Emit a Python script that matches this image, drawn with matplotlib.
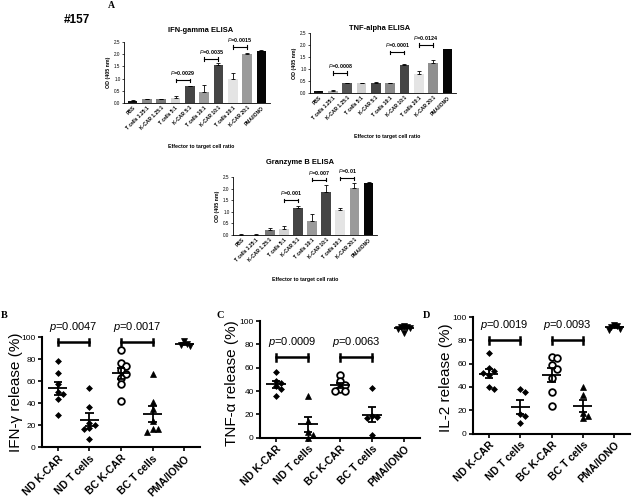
import numpy as np
import matplotlib
matplotlib.use("Agg")
import matplotlib.pyplot as plt

plt.rcParams['font.family'] = ['Liberation Sans', 'DejaVu Sans']
plt.rcParams['mathtext.fontset'] = 'custom'
plt.rcParams['mathtext.rm'] = 'Liberation Sans'
plt.rcParams['mathtext.it'] = 'Liberation Sans:italic'
plt.rcParams['mathtext.bf'] = 'Liberation Sans:bold'

W, H = 633, 499

# ---------------- Panel A data (OD 405 nm) ----------------
elisa_cats = ["PBS", "T cells 1.25:1", "K-CAR 1.25:1", "T cells 5:1", "K-CAR 5:1",
              "T cells 10:1", "K-CAR 10:1", "T cells 20:1", "K-CAR 20:1", "PMA/IONO"]
ifn_od = [0.10, 0.15, 0.16, 0.20, 0.68, 0.45, 1.57, 1.00, 2.00, 2.15]
ifn_err = [0.01, 0.01, 0.02, 0.10, 0.03, 0.30, 0.08, 0.22, 0.05, 0.03]
tnf_od = [0.07, 0.10, 0.42, 0.41, 0.43, 0.42, 1.15, 0.80, 1.25, 1.82]
tnf_err = [0.01, 0.03, 0.01, 0.01, 0.01, 0.01, 0.05, 0.12, 0.12, 0.02]
gzb_od = [0.02, 0.02, 0.20, 0.25, 1.17, 0.62, 1.85, 1.08, 2.02, 2.25]
gzb_err = [0.01, 0.01, 0.10, 0.13, 0.10, 0.30, 0.30, 0.08, 0.20, 0.03]
ifn_pvals = [(3, 4, 0.93, "0.0029"), (5, 6, 1.80, "0.0035"), (7, 8, 2.30, "0.0015")]
tnf_pvals = [(1, 2, 0.83, "0.0008"), (5, 6, 1.70, "0.0001"), (7, 8, 2.00, "0.0124")]
gzb_pvals = [(3, 4, 1.50, "0.001"), (5, 6, 2.38, "0.007"), (7, 8, 2.45, "0.01")]
ifn_colors = ["#111111", "#8a8a8a", "#7a7a7a", "#d4d4d4", "#454545",
              "#9a9a9a", "#454545", "#e4e4e4", "#9a9a9a", "#050505"]
tnf_colors = ["#111111", "#b0b0b0", "#555555", "#cfcfcf", "#454545",
              "#8a8a8a", "#454545", "#e4e4e4", "#8f8f8f", "#050505"]
gzb_colors = ifn_colors

# ---------------- Panels B-D data (% release) ----------------
groups = ["ND K-CAR", "ND T cells", "BC K-CAR", "BC T cells", "PMA/IONO"]
ifn_release = [[78, 67, 57, 50, 48, 44, 29],
               [54, 36, 22, 20, 17, 16, 7],
               [88, 76, 74, 70, 66, 63, 57, 42],
               [66, 41, 35, 24, 16, 14, 16],
               [96, 94, 92, 93]]
tnf_release = [[56, 49, 47, 44, 42, 36],
               [36, 14, 5, 2, 0],
               [54, 49, 45, 42, 40, 40],
               [43, 18, 17, 19, 2],
               [96, 95, 95, 94, 93, 90]]
il2_release = [[69, 56, 54, 52, 50, 40, 38],
               [38, 36, 17, 15, 9],
               [66, 65, 59, 55, 48, 36, 24],
               [40, 33, 18, 15, 13],
               [93, 92, 91, 89, 90]]
ifn_pp = [(0, 1, "0.0047"), (2, 3, "0.0017")]
tnf_pp = [(0, 1, "0.0009"), (2, 3, "0.0063")]
il2_pp = [(0, 1, "0.0019"), (2, 3, "0.0093")]

fig = plt.figure(figsize=(W / 100, H / 100), dpi=100)


def ax_px(l, t, r, b):
    return fig.add_axes([l / W, 1 - b / H, (r - l) / W, (b - t) / H])


def elisa(ax, vals, errs, colors, pvals, title, title_xy, xlabel_xy):
    x = np.arange(len(elisa_cats))
    ax.bar(x, vals, width=0.68, color=colors, edgecolor='none', zorder=2)
    ax.errorbar(x, vals, yerr=[np.zeros(len(vals)), errs], fmt='none',
                ecolor='black', elinewidth=0.6, capsize=1.6, capthick=0.6, zorder=3)
    ax.set_xlim(-0.6, len(elisa_cats) - 0.4)
    ax.set_ylim(0, 2.5)
    ax.set_yticks(np.arange(0, 2.51, 0.5))
    ax.set_yticklabels([f"{v:.1f}" for v in np.arange(0, 2.51, 0.5)], fontsize=3.3)
    ax.set_xticks(x)
    ax.set_xticklabels(elisa_cats, rotation=45, ha='right', rotation_mode='anchor',
                       fontsize=3.5, fontweight='bold')
    ax.tick_params(axis='x', length=0, pad=1.5)
    ax.tick_params(axis='y', length=1.5, width=0.5, pad=1)
    for s in ['top', 'right']:
        ax.spines[s].set_visible(False)
    for s in ['left', 'bottom']:
        ax.spines[s].set_linewidth(0.6)
    ax.set_ylabel("OD (405 nm)", fontsize=3.8, fontweight='bold', labelpad=2)
    for i, j, y, txt in pvals:
        ax.plot([i, j], [y, y], color='black', lw=0.8, clip_on=False, zorder=4)
        for xx in (i, j):
            ax.plot([xx, xx], [y - 0.07, y + 0.07], color='black', lw=0.8, clip_on=False)
        ax.text((i + j) / 2, y + 0.12, r"$\mathbf{\mathit{P}}$=" + txt, ha='center',
                va='bottom', fontsize=3.9, fontweight='bold', clip_on=False)
    fig.text(title_xy[0] / W, 1 - title_xy[1] / H, title, ha='center', va='center',
             fontsize=5.4, fontweight='bold')
    fig.text(xlabel_xy[0] / W, 1 - xlabel_xy[1] / H, "Effector to target cell ratio",
             ha='center', va='center', fontsize=3.8, fontweight='bold')


ax1 = ax_px(124, 42, 270, 103)
elisa(ax1, ifn_od, ifn_err, ifn_colors, ifn_pvals, "IFN-gamma ELISA", (201, 31), (201, 146))
ax2 = ax_px(310, 33, 456, 93)
elisa(ax2, tnf_od, tnf_err, tnf_colors, tnf_pvals, "TNF-alpha ELISA", (380, 29), (387, 137))
ax3 = ax_px(233, 177, 377, 235)
elisa(ax3, gzb_od, gzb_err, gzb_colors, gzb_pvals, "Granzyme B ELISA", (300, 163), (305, 279))

fig.text(111 / W, 1 - 6 / H, "A", fontsize=7, fontweight='bold', family='Liberation Serif',
         ha='center', va='center')
fig.text(77 / W, 1 - 20 / H, "#157", fontsize=8.5, fontweight='bold', ha='center', va='center')


def swarm(vals, ythresh, step):
    vals = np.asarray(vals, dtype=float)
    order = np.argsort(-vals, kind='stable')
    placed = []
    offs = np.zeros(len(vals))
    for i in order:
        v = vals[i]
        cand = 0.0
        for k in range(0, 30):
            cand = 0.0 if k == 0 else ((k + 1) // 2) * step * (1 if k % 2 else -1)
            if all(abs(v - pv) >= ythresh or abs(cand - po) >= step * 0.99 for pv, po in placed):
                break
        offs[i] = cand
        placed.append((v, cand))
    return offs


marker_style = {
    'D': dict(marker='D', ms=3.0, mfc='black', mec='black', mew=0.5),
    '^': dict(marker='^', ms=4.2, mfc='black', mec='black', mew=0.5),
    'v': dict(marker='v', ms=4.2, mfc='black', mec='black', mew=0.5),
    'o': dict(marker='o', ms=4.8, mfc='white', mec='black', mew=1.3),
}


def release(ax, data, markers, pp, ylab, ylab_xy, pbar_y, letter, letter_xy):
    for gi, vals in enumerate(data):
        vals = np.asarray(vals, dtype=float)
        step = 0.17 if gi < 4 else 0.09
        offs = swarm(vals, 4.5, step)
        st = marker_style[markers[gi]]
        ax.plot(gi + offs, vals, ls='none', zorder=3, clip_on=False, **st)
        m = vals.mean()
        s = vals.std(ddof=1) / np.sqrt(len(vals))
        ax.hlines(m, gi - 0.3, gi + 0.3, color='black', lw=1.3, zorder=4)
        ax.vlines(gi, m - s, m + s, color='black', lw=1.3, zorder=4)
        ax.hlines([m - s, m + s], gi - 0.13, gi + 0.13, color='black', lw=1.3, zorder=4)
    ax.set_xlim(-0.5, 4.5)
    ax.set_ylim(0, 100)
    ax.set_yticks(range(0, 101, 20))
    ax.set_yticklabels([str(v) for v in range(0, 101, 20)], fontsize=6)
    ax.set_xticks(range(len(groups)))
    ax.set_xticklabels(groups, rotation=45, ha='right', rotation_mode='anchor',
                       fontsize=7.6, fontweight='bold')
    ax.tick_params(axis='both', length=3, width=1.2, pad=1.5)
    for s in ['top', 'right']:
        ax.spines[s].set_visible(False)
    for s in ['left', 'bottom']:
        ax.spines[s].set_linewidth(1.5)
    for i, j, txt in pp:
        y = pbar_y
        ax.plot([i, j], [y, y], color='black', lw=1.8, clip_on=False, zorder=4)
        for xx in (i, j):
            ax.plot([xx, xx], [y - 3, y + 3], color='black', lw=1.8, clip_on=False)
        ax.text((i + j) / 2, y + 7, r"$\mathit{p}$=" + txt, ha='center', va='bottom',
                fontsize=8, clip_on=False)
    fig.text(ylab_xy[0] / W, 1 - ylab_xy[1] / H, ylab, rotation=90, ha='center',
             va='center', fontsize=11)
    fig.text(letter_xy[0] / W, 1 - letter_xy[1] / H, letter, fontsize=7.5,
             fontweight='bold', family='Liberation Serif', ha='center', va='center')


axB = ax_px(42, 337, 200, 447)
release(axB, ifn_release, ['D', 'D', 'o', '^', 'v'], ifn_pp, "IFN-γ release (%)",
        (16, 392), 95.5, "B", (4, 315))
axC = ax_px(260, 321, 420, 437.7)
release(axC, tnf_release, ['D', '^', 'o', 'D', 'v'], tnf_pp, "TNF-α release (%)",
        (232, 383), 69, "C", (220, 315))
axD = ax_px(473, 317, 630, 433.5)
release(axD, il2_release, ['D', 'D', 'o', '^', 'v'], il2_pp, "IL-2 release (%)",
        (446, 378), 80, "D", (427, 315))

fig.savefig("out.png", dpi=100)
